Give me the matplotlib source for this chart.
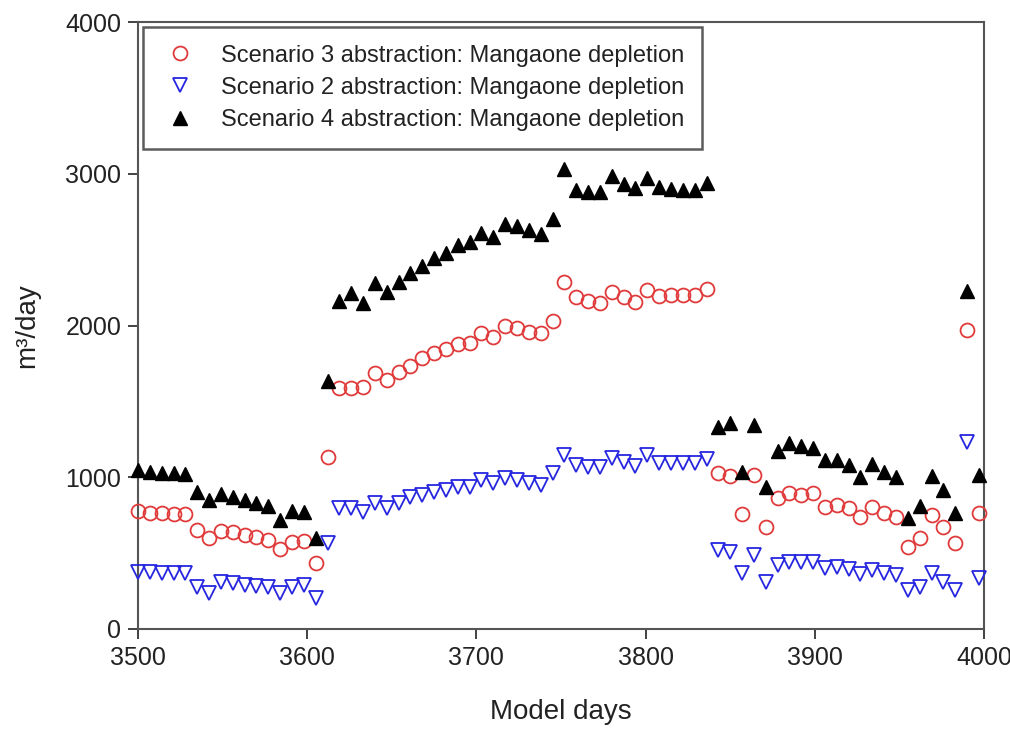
import matplotlib
matplotlib.use("Agg")
import matplotlib.pyplot as plt
import numpy as np

plt.rcParams['font.family'] = ['Liberation Sans', 'DejaVu Sans']

# Model days: weekly outputs from 3500
days = [3500 + 7 * i for i in range(72)]

scenario3 = [775, 762, 762, 760, 755, 652, 597, 646, 641, 619, 604, 586, 525, 575, 582, 437, 1131,
             1586, 1586, 1597, 1689, 1641, 1696, 1733, 1784, 1817, 1843, 1878, 1887, 1949, 1926,
             1997, 1981, 1959, 1949, 2032, 2289, 2190, 2164, 2151, 2223, 2186, 2157, 2234, 2194,
             2201, 2201, 2201, 2239, 1030, 1010, 760, 1012, 674, 860, 898, 885, 896, 806, 820,
             795, 740, 806, 762, 740, 542, 597, 751, 674, 565, 1970, 762]

scenario2 = [378, 375, 372, 370, 368, 275, 239, 312, 305, 290, 283, 275, 235, 275, 290, 202, 569,
             795, 795, 773, 833, 795, 828, 872, 883, 905, 916, 938, 934, 982, 964,
             993, 982, 960, 949, 1026, 1147, 1081, 1070, 1070, 1125, 1103, 1074, 1147, 1092,
             1092, 1092, 1092, 1118, 521, 510, 372, 488, 312, 422, 444, 444, 444, 400, 411,
             395, 362, 389, 367, 356, 257, 275, 371, 312, 257, 1234, 334]

scenario4 = [1045, 1035, 1030, 1025, 1020, 905, 850, 890, 872, 850, 832, 810, 718, 780, 773, 602, 1636,
             2164, 2212, 2151, 2282, 2223, 2289, 2344, 2392, 2443, 2480, 2530, 2552, 2612, 2581,
             2669, 2656, 2629, 2603, 2700, 3033, 2890, 2882, 2882, 2985, 2932, 2904, 2970, 2915,
             2897, 2893, 2893, 2941, 1333, 1355, 1037, 1344, 938, 1175, 1226, 1204, 1191, 1114, 1114,
             1081, 1004, 1085, 1037, 1000, 729, 810, 1008, 918, 762, 2226, 1012]

labels = ["Scenario 3 abstraction: Mangaone depletion",
          "Scenario 2 abstraction: Mangaone depletion",
          "Scenario 4 abstraction: Mangaone depletion"]

xticks = [3500, 3600, 3700, 3800, 3900, 4000]
yticks = [0, 1000, 2000, 3000, 4000]

fig = plt.figure(figsize=(10.1, 7.29), dpi=100)
ax = fig.add_axes([138 / 1010, 1 - 629 / 729, (984 - 138) / 1010, (629 - 22) / 729])

ax.plot(days, scenario3, linestyle='none', marker='o', markersize=10, markerfacecolor='none',
        markeredgecolor='#e03a3a', markeredgewidth=1.3, label=labels[0], clip_on=False, zorder=3)
ax.plot(days, scenario2, linestyle='none', marker='v', markersize=10, markerfacecolor='none',
        markeredgecolor='#2626e0', markeredgewidth=1.3, label=labels[1], clip_on=False, zorder=3)
ax.plot(days, scenario4, linestyle='none', marker='^', markersize=10, markerfacecolor='black',
        markeredgecolor='black', markeredgewidth=1.0, label=labels[2], clip_on=False, zorder=4)

ax.set_xlim(3500, 4000)
ax.set_ylim(0, 4000)
ax.set_xticks(xticks)
ax.set_yticks(yticks)
ax.tick_params(axis='both', direction='out', length=7, width=1.2, labelsize=18, colors='#222222')
ax.tick_params(axis='x', pad=5)
ax.tick_params(axis='y', pad=5)

for sp in ax.spines.values():
    sp.set_color('#555555')
    sp.set_linewidth(1.5)

ax.set_xlabel("Model days", fontsize=20, labelpad=21, color='#222222')
ax.set_ylabel("m³/day", fontsize=20, labelpad=18, color='#222222')

leg = ax.legend(loc='upper left', bbox_to_anchor=(0.006, 0.992), fontsize=17, frameon=True,
                fancybox=False, edgecolor='#333333', borderpad=0.75, handletextpad=0.95,
                labelspacing=0.43, handlelength=1.6, borderaxespad=0)
leg.get_frame().set_linewidth(1.8)
for t in leg.get_texts():
    t.set_color('#222222')

fig.savefig("out.png", dpi=100)
